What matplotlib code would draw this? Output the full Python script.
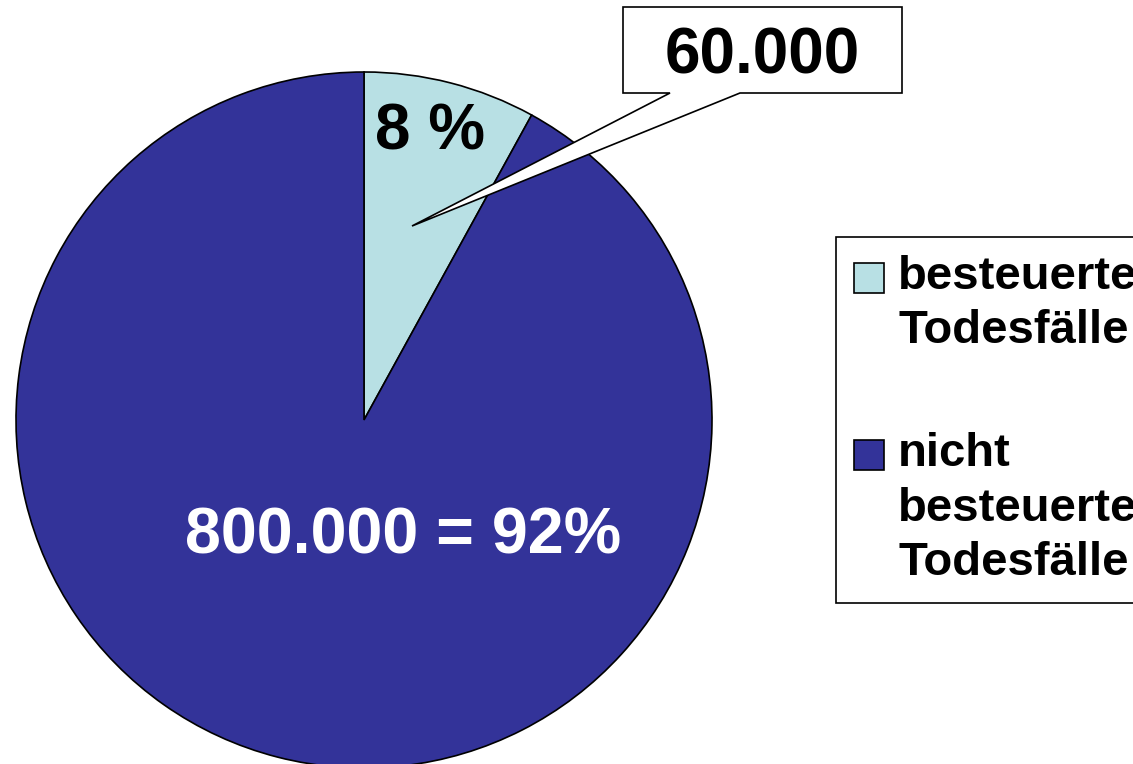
import matplotlib.pyplot as plt
from matplotlib.patches import Polygon, Rectangle
from matplotlib.legend_handler import HandlerPatch

# data
categories = ['besteuerte\nTodesfälle', 'nicht\nbesteuerte\nTodesfälle']
shares = [8, 92]
counts = ['60.000', '800.000']
colors = ['#B8E0E4', '#333399']

plt.rcParams['font.family'] = ['Liberation Sans', 'DejaVu Sans']
plt.rcParams['font.weight'] = 'bold'

W, H = 1133, 764
fig = plt.figure(figsize=(W / 100, H / 100), dpi=100)
ax = fig.add_axes([0, 0, 1, 1])

def py(y):
    # pixel row (from top) -> data y
    return H - y

wedges, _ = ax.pie(shares, colors=colors, startangle=90, counterclock=False,
                   center=(364, py(420)), radius=348,
                   wedgeprops=dict(edgecolor='black', linewidth=1.2))
ax.set_xlim(0, W)
ax.set_ylim(0, H)
ax.set_aspect('equal')
ax.axis('off')

# slice labels
ax.text(430, py(150), f'{shares[0]} %', ha='center', va='baseline',
        fontsize=46, fontweight='bold', color='black')
ax.text(403, py(553), f'{counts[1]} = {shares[1]}%', ha='center', va='baseline',
        fontsize=46.5, fontweight='bold', color='white')

# callout with pointer
pts = [(623, 7), (902, 7), (902, 93), (740, 93), (412, 226), (670, 93), (623, 93)]
ax.add_patch(Polygon([(x, py(y)) for x, y in pts], closed=True,
                     facecolor='white', edgecolor='black', linewidth=1.2, zorder=5))
ax.text(762, py(73), counts[0], ha='center', va='baseline',
        fontsize=46, fontweight='bold', color='black', zorder=6)

# legend, square aligned with first line of each label
fs = 34
sq = 21.6  # points
def square(legend, orig_handle, xdescent, ydescent, width, height, fontsize):
    return Rectangle((-xdescent, -ydescent + height - 5.5 - sq), sq, sq)

leg = fig.legend(wedges, categories, loc='upper left',
                 bbox_to_anchor=(836 / W, 1 - 237 / H),
                 prop=dict(weight='bold', size=fs),
                 frameon=True, fancybox=False, edgecolor='black', framealpha=1,
                 handlelength=sq / fs, handleheight=0.8, handletextpad=0.3,
                 borderpad=0.38, labelspacing=1.68, borderaxespad=0,
                 handler_map={w: HandlerPatch(patch_func=square) for w in wedges})
leg.get_frame().set_linewidth(1.2)
for t in leg.get_texts():
    t.set_linespacing(1.3)
for col in leg._legend_handle_box.get_children():
    for row in col.get_children():
        row.align = 'top'

fig.savefig('out.png', dpi=100)
